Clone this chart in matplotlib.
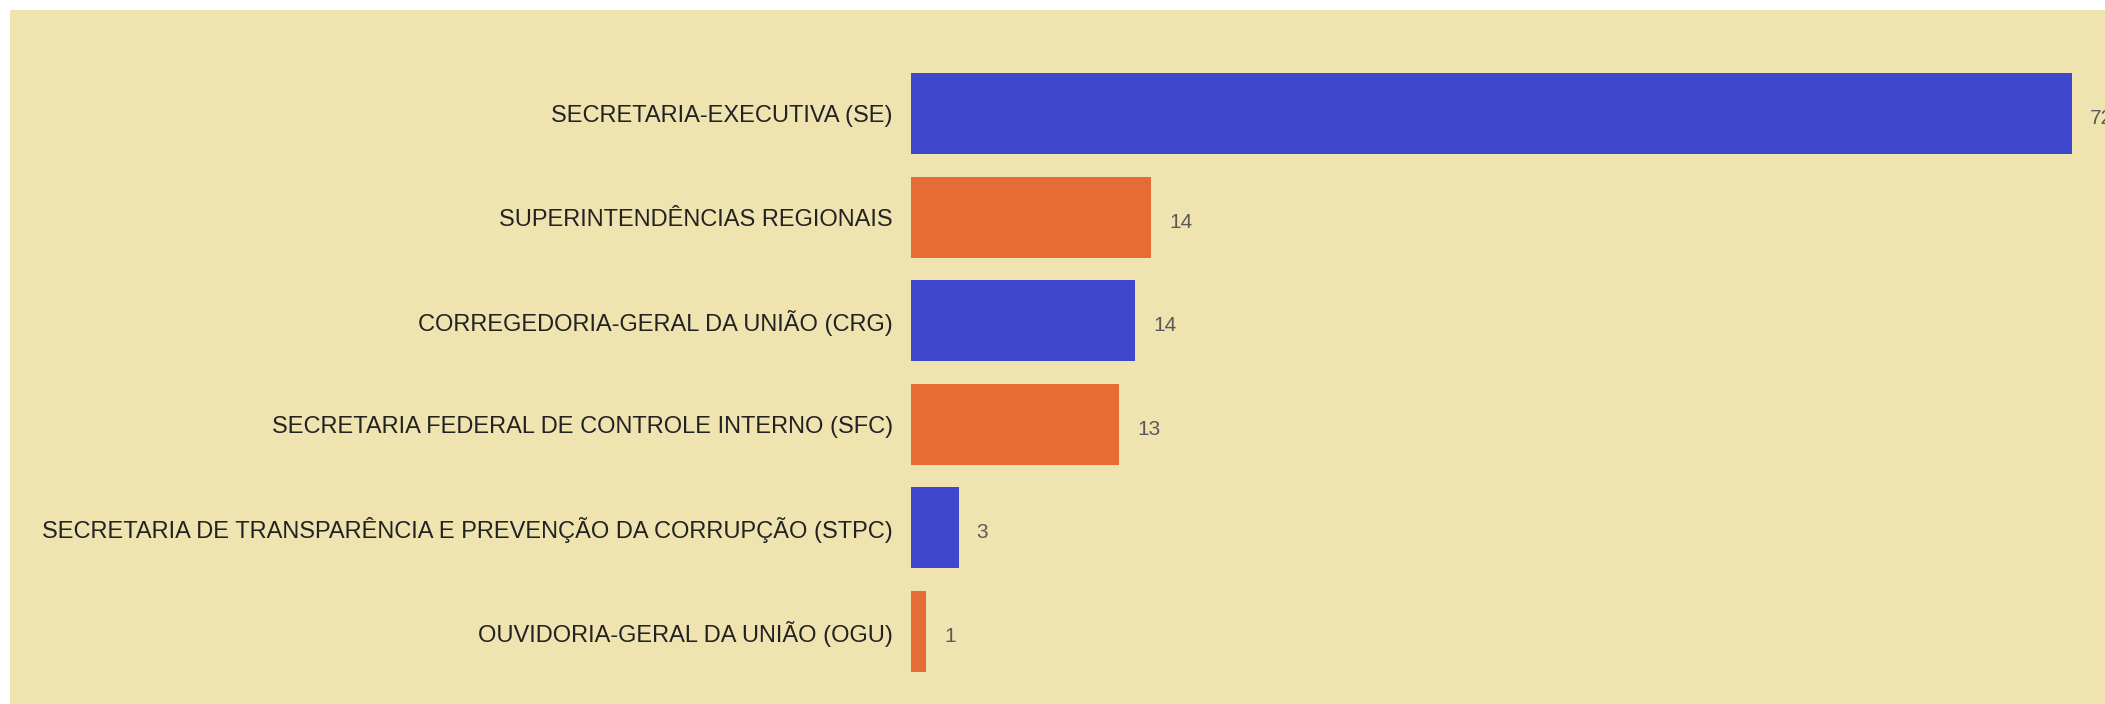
import matplotlib
matplotlib.use("Agg")
import matplotlib.pyplot as plt
from matplotlib.patches import Rectangle

# Data
categories = [
    "SECRETARIA-EXECUTIVA (SE)",
    "SUPERINTENDÊNCIAS REGIONAIS",
    "CORREGEDORIA-GERAL DA UNIÃO (CRG)",
    "SECRETARIA FEDERAL DE CONTROLE INTERNO (SFC)",
    "SECRETARIA DE TRANSPARÊNCIA E PREVENÇÃO DA CORRUPÇÃO (STPC)",
    "OUVIDORIA-GERAL DA UNIÃO (OGU)",
]
values = [72, 14.9, 13.9, 12.9, 2.95, 0.95]
value_labels = ["72", "14", "14", "13", "3", "1"]

blue = "#3F48CC"
orange = "#E66B35"
colors = [blue if i % 2 == 0 else orange for i in range(len(categories))]

plt.rcParams['font.family'] = ['Liberation Sans', 'DejaVu Sans']

W, H = 2105, 704
fig = plt.figure(figsize=(W / 100, H / 100), dpi=100)
fig.patch.set_facecolor("white")
fig.patches.append(Rectangle((10 / W, 0), 1, 1 - 10 / H, transform=fig.transFigure,
                             facecolor="#EFE3B0", edgecolor="none", zorder=-10))

ax = fig.add_axes([911 / W, 21 / H, (W - 911) / W, 621 / H])
ax.set_facecolor("none")
ax.set_zorder(1)

y = list(range(len(categories)))
ax.barh(y, values, height=0.78, color=colors)
ax.set_xlim(0, (W - 911) / 16.12)
ax.set_ylim(len(categories) - 0.5, -0.5)

ax.set_yticks(y)
ax.set_yticklabels(categories, fontsize=17, color="#222222")
ax.tick_params(axis="y", length=0, pad=13)
ax.set_xticks([])
for s in ax.spines.values():
    s.set_visible(False)

for yi, v, lab in zip(y, values, value_labels):
    ax.annotate(lab, (v, yi), xytext=(18, -5), textcoords="offset pixels",
                va="center", ha="left", fontsize=15, color="#5a5a5a",
                annotation_clip=False)

fig.savefig("out.png", dpi=100)
